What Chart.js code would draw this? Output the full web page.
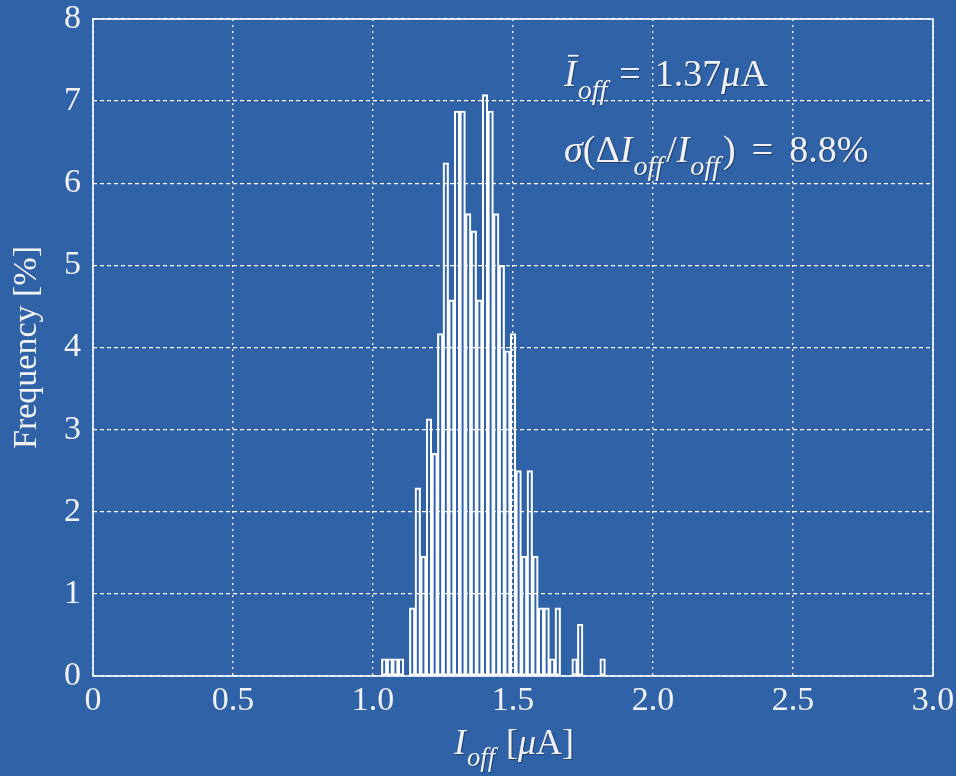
<!DOCTYPE html>
<html>
<head>
<meta charset="utf-8">
<title>I_off histogram</title>
<script src="https://cdn.jsdelivr.net/npm/chart.js@4/dist/chart.umd.min.js"></script>
<style>
  html, body { margin: 0; padding: 0; background: #3062a8; }
  #hist { display: block; }
</style>
</head>
<body>
<canvas id="hist" width="956" height="776"></canvas>
<script>
// bin centres of the histogram [uA], bins are 0.02 uA wide
const binCenters = [
  1.04, 1.06, 1.08, 1.10, 1.12, 1.14, 1.16, 1.18, 1.20, 1.22,
  1.24, 1.26, 1.28, 1.30, 1.32, 1.34, 1.36, 1.38, 1.40, 1.42,
  1.44, 1.46, 1.48, 1.50, 1.52, 1.54, 1.56, 1.58, 1.60, 1.62,
  1.64, 1.66, 1.68, 1.70, 1.72, 1.74, 1.76, 1.78, 1.80, 1.82
];
// frequency of each bin [%]
const frequency = [
  0.21, 0.21, 0.21, 0.21, 0, 0.83, 2.29, 1.46, 3.13, 2.71,
  4.17, 6.25, 4.58, 6.88, 6.88, 5.63, 5.42, 4.58, 7.08, 6.88,
  5.63, 5.00, 3.96, 4.17, 2.50, 1.46, 2.50, 1.46, 0.83, 0.83,
  0.21, 0.83, 0, 0, 0.21, 0.63, 0, 0, 0, 0.21
];
const xTicks = [0, 0.5, 1.0, 1.5, 2.0, 2.5, 3.0];
const yTicks = [0, 1, 2, 3, 4, 5, 6, 7, 8];

const meanText = '1.37';
const sigmaText = '8.8%';

const serif = '"Liberation Serif", "DejaVu Serif", serif';
const ink = '#f2f2f2';

let points = [];
binCenters.forEach((c, i) => {
  if (frequency[i] > 0) points.push({ x: c, y: frequency[i] });
});

// draws a run of text pieces: {t, it (italic), sub, bar (overline), gap}
function drawRich(ctx, pieces, x, y, size, align) {
  let total = 0;
  let widths = pieces.map(p => {
    if (p.gap) { total += p.gap; return p.gap; }
    let fs = p.sub ? size * 0.74 : size;
    ctx.font = (p.it ? 'italic ' : '') + fs + 'px ' + serif;
    let w = ctx.measureText(p.t).width + (p.sub ? 4 : 0);
    total += w;
    return w;
  });
  let cx = align === 'center' ? x - total / 2 : x;
  pieces.forEach((p, i) => {
    if (!p.gap) {
      let fs = p.sub ? size * 0.74 : size;
      ctx.font = (p.it ? 'italic ' : '') + fs + 'px ' + serif;
      let yy = p.sub ? y + size * 0.34 : y;
      ctx.fillText(p.t, cx + (p.sub ? 1 : 0), yy);
      if (p.bar) {
        ctx.fillRect(cx + 4, y - size * 0.82, widths[i] - 2, 1.8);
      }
    }
    cx += widths[i];
  });
}

const decorPlugin = {
  id: 'decor',
  afterDraw(chart) {
    let ctx = chart.ctx;
    let a = chart.chartArea;
    ctx.save();
    ctx.strokeStyle = '#ffffff';
    ctx.lineWidth = 1.6;
    ctx.strokeRect(a.left, a.top, a.right - a.left, a.bottom - a.top);

    ctx.fillStyle = ink;
    ctx.textBaseline = 'alphabetic';
    ctx.shadowColor = 'rgba(0,0,0,0.35)';
    ctx.shadowOffsetX = 1;
    ctx.shadowOffsetY = 1;
    ctx.shadowBlur = 1;

    drawRich(ctx, [
      { t: 'I', it: true, bar: true },
      { t: 'off', it: true, sub: true },
      { gap: 9 },
      { t: '=' },
      { gap: 14 },
      { t: meanText },
      { t: 'μ', it: true },
      { t: 'A' }
    ], 564, 86, 38, 'left');

    drawRich(ctx, [
      { t: 'σ', it: true },
      { t: '(Δ' },
      { t: 'I', it: true },
      { t: 'off', it: true, sub: true },
      { t: '/' },
      { t: 'I', it: true },
      { t: 'off', it: true, sub: true },
      { t: ')' },
      { gap: 16 },
      { t: '=' },
      { gap: 16 },
      { t: sigmaText }
    ], 564, 162, 38, 'left');

    drawRich(ctx, [
      { t: 'I', it: true },
      { t: 'off', it: true, sub: true },
      { gap: 8 },
      { t: '[' },
      { t: 'μ', it: true },
      { t: 'A]' }
    ], 514, 754, 36, 'center');
    ctx.restore();
  }
};

let ctx = document.getElementById('hist').getContext('2d');
let chart = new Chart(ctx, {
  type: 'bar',
  data: {
    datasets: [{
      label: 'Frequency',
      data: points,
      backgroundColor: 'rgba(0,0,0,0)',
      borderColor: '#ffffff',
      borderWidth: 1.5,
      borderSkipped: false,
      barPercentage: 1,
      categoryPercentage: 1
    }]
  },
  options: {
    responsive: false,
    devicePixelRatio: 1,
    animation: false,
    layout: { padding: { top: 19, right: 23, left: 0, bottom: 0 } },
    plugins: {
      legend: { display: false },
      tooltip: { enabled: false }
    },
    scales: {
      x: {
        type: 'linear',
        min: 0,
        max: 3,
        offset: false,
        afterBuildTicks: scale => { scale.ticks = xTicks.map(v => ({ value: v })); },
        afterFit: scale => {
          scale.height = 100;
          scale.paddingLeft = 0;
          scale.paddingRight = 0;
        },
        ticks: {
          color: ink,
          font: { family: serif, size: 34 },
          padding: 5,
          maxRotation: 0,
          callback: v => (v === 0 ? '0' : v.toFixed(1))
        },
        grid: { color: '#ffffff', lineWidth: 1.3, drawTicks: false, offset: false },
        border: { display: false, dash: [2, 4] }
      },
      y: {
        min: 0,
        max: 8,
        afterBuildTicks: scale => { scale.ticks = yTicks.map(v => ({ value: v })); },
        afterFit: scale => {
          scale.width = 93;
          scale.paddingTop = 0;
          scale.paddingBottom = 0;
        },
        ticks: {
          color: ink,
          font: { family: serif, size: 34 },
          padding: 12
        },
        grid: { color: '#ffffff', lineWidth: 1.3, drawTicks: false },
        border: { display: false, dash: [4, 3] },
        title: {
          display: true,
          text: 'Frequency [%]',
          color: ink,
          font: { family: serif, size: 34 },
          padding: { top: 7, bottom: 0 }
        }
      }
    }
  },
  plugins: [decorPlugin]
});
</script>
</body>
</html>
